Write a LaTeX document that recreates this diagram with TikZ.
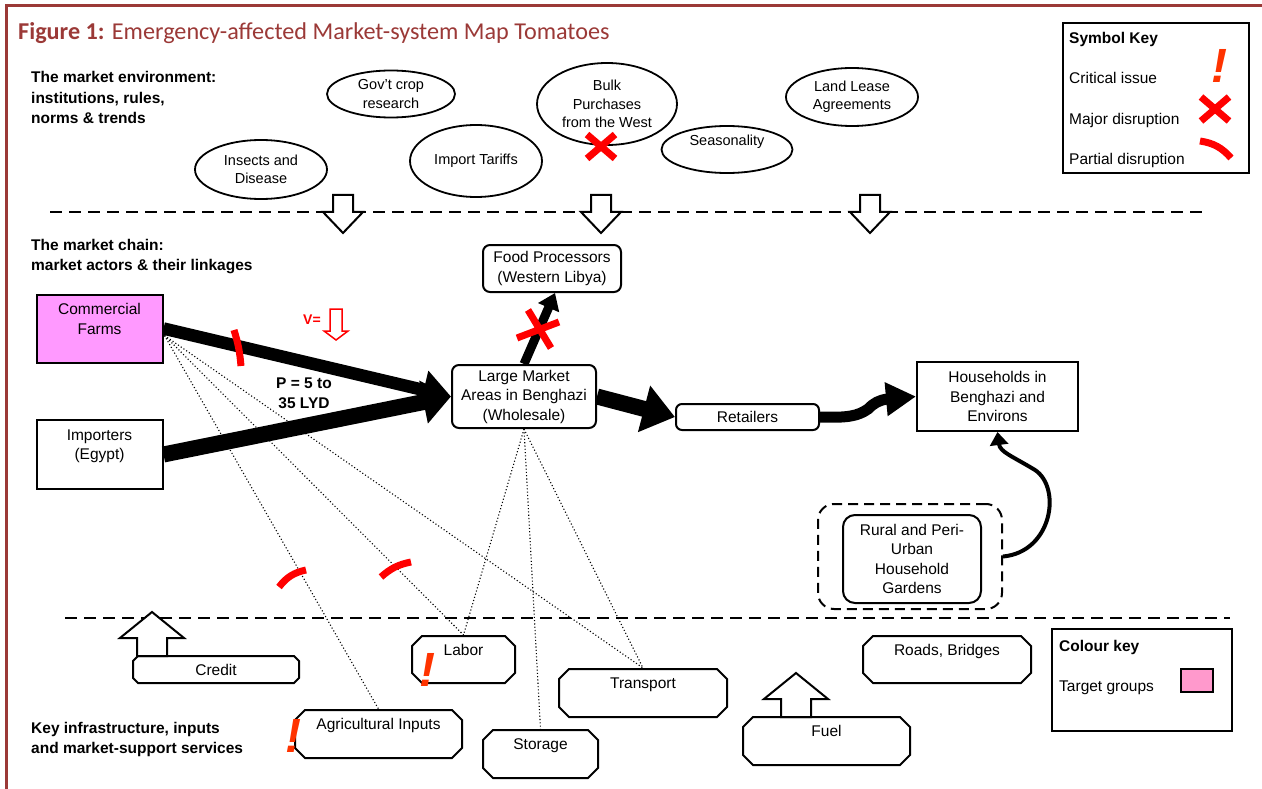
\documentclass[tikz,border=0pt]{standalone}
\usepackage{fontspec}
\setmainfont{Liberation Sans}
\newfontfamily\titlefont{Carlito}
\usetikzlibrary{arrows.meta,shapes.geometric,shapes.misc,calc}
\definecolor{framered}{RGB}{155,57,55}
\definecolor{farmpink}{RGB}{255,153,255}
\definecolor{keypink}{RGB}{255,153,204}
\definecolor{critorange}{RGB}{255,51,0}
\begin{document}
\begin{tikzpicture}[x=1pt,y=-1pt,
  every node/.style={inner sep=0pt, align=center, font=\fontsize{15.5}{19.5}\selectfont},
  hdr/.style={anchor=north west, align=left, font=\fontsize{15.5}{20.3}\selectfont\bfseries},
  env/.style 2 args={draw, ellipse, line width=1.8pt, minimum width=#1pt, minimum height=#2pt, inner sep=-20pt, font=\fontsize{14.5}{18.5}\selectfont},
  actor/.style 2 args={draw, line width=2pt, minimum width=#1pt, minimum height=#2pt},
  service/.style 2 args={draw, chamfered rectangle, chamfered rectangle sep=5pt, line width=2pt, minimum width=#1pt, minimum height=#2pt},
  sep/.style={line width=2.2pt, dash pattern=on 12pt off 7pt},
  link/.style={line width=1.1pt, dash pattern=on 1.1pt off 2.2pt},
  hollow/.style={draw, line width=2pt, fill=white, line join=miter},
  majorx/.style={red, line width=7pt},
  partial/.style={red, line width=7pt},
  crit/.style={text=critorange, font=\fontsize{48}{48}\selectfont\bfseries\itshape}
]
\useasboundingbox (0,0) rectangle (1262,789);

\draw[framered, line width=3pt] (6.5,789) -- (6.5,5.5) -- (1262,5.5);
\node[anchor=base west, text=framered, font=\titlefont\fontsize{24.2}{28}\selectfont] (title) at (18,39.5) {\textbf{Figure 1:} Emergency-affected Market-system Map Tomatoes};

\node[hdr] (envhdr) at (31,71.5) {The market environment:\\institutions, rules,\\norms \& trends};
\node[hdr] (chainhdr) at (31,239) {The market chain:\\market actors \& their linkages};
\node[hdr] (infrahdr) at (31,722) {Key infrastructure, inputs\\and market-support services};

\node[env={128}{47}] (gov) at (391,94) {Gov’t crop\\research};
\node[env={132}{59}] (insects) at (261,169.5) {Insects and\\Disease};
\node[env={140}{82}] (bulk) at (607,104) {Bulk\\Purchases\\from the West};
\node[env={132}{72}] (tariffs) at (476,161) {Import Tariffs};
\node[env={131}{47}] (season) at (727,149.5) {Seasonality\\\mbox{}};
\node[env={132}{58}] (lease) at (852,97) {Land Lease\\Agreements};

\draw[sep] (50,212) -- (1203,212);
\draw[sep] (65,618) -- (1230,618);
\foreach \cx in {343,601,870}
  \draw[hollow] (\cx-10,195) -- (\cx+10,195) -- (\cx+10,212) -- (\cx+20,212) -- (\cx,233) -- (\cx-20,212) -- (\cx-10,212) -- cycle;

\node[actor={126}{68}, fill=farmpink] (cf) at (99.5,328.5) {Commercial\\Farms\\\mbox{}};
\node[actor={126}{69}] (imp) at (99.5,454.5) {Importers\\(Egypt)\\\mbox{}};
\node[actor={144}{63}, rounded corners=7pt] (lm) at (524,396.5) {Large Market\\Areas in Benghazi\\(Wholesale)};
\node[actor={138}{47}, rounded corners=7pt] (fp) at (552,268.5) {Food Processors\\(Western Libya)};
\node[actor={143}{26}, rounded corners=6pt] (ret) at (747.5,417) {Retailers};
\node[actor={161}{69}] (hh) at (997.5,396.5) {Households in\\Benghazi and\\Environs};
\node[actor={138}{88}, rounded corners=12pt] (gdn) at (912,559) {Rural and Peri-\\Urban\\Household\\Gardens};
\node[actor={184}{105}, rounded corners=16pt, dash pattern=on 10pt off 6pt] (gout) at (910,556.5) {};

\node[service={166}{27}, chamfered rectangle sep=2.5pt] (credit) at (216,669.5) {Credit};
\node[service={103}{47}] (labor) at (463.5,659.5) {Labor\\\mbox{}};
\node[service={167}{48}] (agri) at (378.5,734) {Agricultural Inputs\\\mbox{}};
\node[service={115}{48}] (storage) at (540.5,754) {Storage\\\mbox{}};
\node[service={168}{48}] (transport) at (643,693) {Transport\\\mbox{}};
\node[service={167}{48}] (fuel) at (826.5,741) {Fuel\\\mbox{}};
\node[service={168}{47}] (roads) at (947,659.5) {Roads, Bridges\\\mbox{}};

\foreach \cx/\ty in {152/612,796/673}
  \draw[hollow] (\cx,\ty) -- (\cx+32,\ty+26) -- (\cx+15,\ty+26) -- (\cx+15,\ty+44) -- (\cx-15,\ty+44) -- (\cx-15,\ty+26) -- (\cx-32,\ty+26) -- cycle;

\coordinate (cfo) at ($(cf.east)+(1,7)$);
\foreach \t in {agri,labor,transport} \draw[link] (cfo) -- (\t.north);
\foreach \t in {labor,storage,transport} \draw[link] (lm.south) -- (\t.north);

\draw[line width=12.5pt, -{Triangle[length=28pt,width=38pt]}] (cf.east) -- (lm.west);
\draw[line width=16pt, -{Triangle[length=28pt,width=42pt]}] (imp.east) -- (lm.west);
\draw[line width=16pt, -{Triangle[length=32pt,width=46pt]}] (lm.east) -- (ret.west);
\draw[line width=9pt, -{Triangle[length=16pt,width=22pt]}] (lm.north) -- ([xshift=3pt]fp.south);
\draw[line width=11pt, -{Triangle[length=30pt,width=32pt]}] (ret.east) .. controls (848,418) and (858,416) .. (868,409) .. controls (874,403) and (879,400) .. (888,399) -- (hh.west);
\draw[line width=4pt, -{Triangle[length=13pt,width=18pt]}] (gout.east) .. controls (1052,552) and (1062,488) .. (1035,470) .. controls (1012,456) and (1000,452) .. (hh.south);

\node[text=red, font=\fontsize{14}{14}\selectfont\bfseries] (vlab) at (312,320) {V=};
\draw[red, line width=1.5pt, fill=white] (330,309) -- (342,309) -- (342,331) -- (348,331) -- (336,340) -- (324,331) -- (330,331) -- cycle;
\node[font=\fontsize{15.5}{20}\selectfont\bfseries] (price) at (304,393) {P = 5 to\\35 LYD};

\foreach \x/\y in {1215/109,601/146.5}
  \draw[majorx] (\x-14,\y-12) -- (\x+14,\y+12) (\x-14,\y+12) -- (\x+14,\y-12);
\draw[majorx] (517,338) -- (559,322) (528,310) -- (551,348);
\draw[partial] (1200,141) to[bend left=20] (1231,158);
\draw[partial] (234,330) to[bend left=6] (241,366);
\draw[partial] (279,587) to[bend left=20] (306,570);
\draw[partial] (381,577) to[bend left=15] (411,562);

\node[crit] (critkey) at (1219,66) {!};
\node[crit] (critlabor) at (427,670) {!};
\node[crit] (critagri) at (293,736) {!};

\node[draw, line width=2pt, minimum width=186pt, minimum height=150pt] (symkey) at (1156,98) {};
\node[anchor=base west, font=\fontsize{15.5}{19.5}\selectfont\bfseries] (symtitle) at (1069,44) {Symbol Key};
\node[anchor=base west] (kcrit) at (1069,84) {Critical issue};
\node[anchor=base west] (kmajor) at (1069,125) {Major disruption};
\node[anchor=base west] (kpartial) at (1069,165) {Partial disruption};

\node[draw, line width=2pt, minimum width=180pt, minimum height=102pt] (colkey) at (1142,680) {};
\node[anchor=base west, font=\fontsize{15.5}{19.5}\selectfont\bfseries] (coltitle) at (1059,651) {Colour key};
\node[anchor=base west] (ktarget) at (1059,691) {Target groups};
\node[draw, line width=2pt, fill=keypink, minimum width=32pt, minimum height=23pt] (swatch) at (1197,680.5) {};
\end{tikzpicture}
\end{document}
